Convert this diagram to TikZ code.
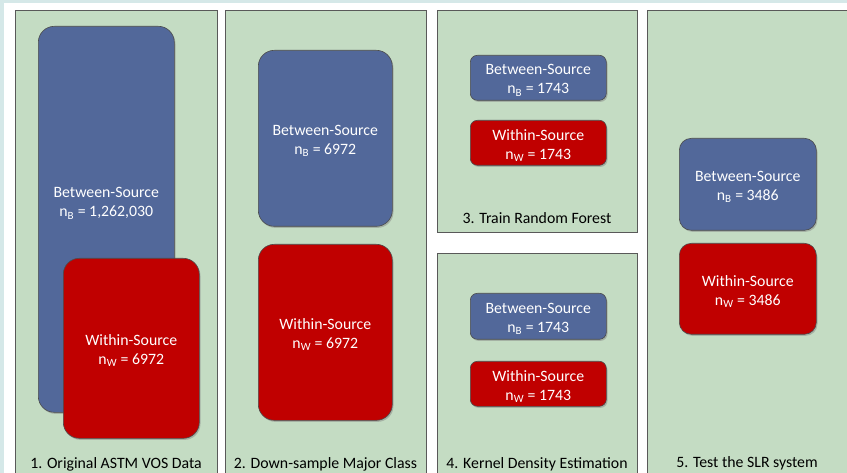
\documentclass[tikz,border=0pt]{standalone}
\usepackage{fontspec}
\setmainfont{Carlito}
\usetikzlibrary{shadows}

\definecolor{framecyan}{HTML}{D5E8E8}
\definecolor{panelgreen}{HTML}{C4DCC3}
\definecolor{srcblue}{HTML}{52689A}
\definecolor{srcred}{HTML}{C00000}
\newcommand{\boxfont}{\fontsize{15.8}{19}\selectfont}

\begin{document}
\begin{tikzpicture}[x=1pt,y=-1pt,
  panel/.style={draw=black!65,line width=1.1pt,fill=panelgreen,anchor=north west,inner sep=0pt},
  srcbox/.style={draw=black!70,line width=0.6pt,anchor=north west,inner sep=0pt,
    drop shadow={opacity=0.45,shadow xshift=1.2pt,shadow yshift=-1.6pt}},
  between/.style={srcbox,fill=srcblue},
  within/.style={srcbox,fill=srcred},
  boxtext/.style={text=white,font=\boxfont,align=center,yshift=-2.5pt},
  steplabel/.style={font=\boxfont,anchor=base}]
    \useasboundingbox (0,0) rectangle (847,473);
    \clip (0,0) rectangle (847,473);
    \fill[framecyan] (0,0) rectangle (847,473);
    \fill[white] (4,3) rectangle (847,473);

    % panels
    \foreach \name/\x/\y/\w/\h in {p1/15/10/202/480, p2/225/10/201/480, p3/437/10/200/222,
                                    p4/437/253/200/230, p5/647/10/201/480} {
        \node[panel,minimum width=\w pt,minimum height=\h pt] (\name) at (\x,\y) {};
    }

    % 1. original data
    \node[between,minimum width=136pt,minimum height=386pt,rounded corners=16pt,
          label={[boxtext,yshift=18.5pt]center:Between-Source\\n\textsubscript{B} = 1,262,030}] (b1) at (38,26) {};
    \node[within,minimum width=136pt,minimum height=180pt,rounded corners=16pt,
          label={[boxtext]center:Within-Source\\n\textsubscript{W} = 6972}] (w1) at (63,258) {};

    % 2. down-sample
    \node[between,minimum width=134pt,minimum height=176pt,rounded corners=16pt,
          label={[boxtext]center:Between-Source\\n\textsubscript{B} = 6972}] (b2) at (258,50) {};
    \node[within,minimum width=134pt,minimum height=176pt,rounded corners=16pt,
          label={[boxtext]center:Within-Source\\n\textsubscript{W} = 6972}] (w2) at (258,244) {};

    % 3. random forest
    \node[between,minimum width=136pt,minimum height=45pt,rounded corners=7pt,
          label={[boxtext]center:Between-Source\\n\textsubscript{B} = 1743}] (b3) at (470,55) {};
    \node[within,minimum width=136pt,minimum height=45pt,rounded corners=7pt,
          label={[boxtext]center:Within-Source\\n\textsubscript{W} = 1743}] (w3) at (470,120) {};

    % 4. kde
    \node[between,minimum width=136pt,minimum height=46pt,rounded corners=7pt,
          label={[boxtext]center:Between-Source\\n\textsubscript{B} = 1743}] (b4) at (470,293) {};
    \node[within,minimum width=136pt,minimum height=45pt,rounded corners=7pt,
          label={[boxtext]center:Within-Source\\n\textsubscript{W} = 1743}] (w4) at (470,361) {};

    % 5. test
    \node[between,minimum width=137pt,minimum height=92pt,rounded corners=12pt,
          label={[boxtext]center:Between-Source\\n\textsubscript{B} = 3486}] (b5) at (679,138) {};
    \node[within,minimum width=137pt,minimum height=91pt,rounded corners=12pt,
          label={[boxtext]center:Within-Source\\n\textsubscript{W} = 3486}] (w5) at (679,243) {};

    % step labels
    \node[steplabel] (l1) at (116,468) {1. Original ASTM VOS Data};
    \node[steplabel] (l2) at (325.5,468) {2. Down-sample Major Class};
    \node[steplabel] (l3) at (537,224) {3. Train Random Forest};
    \node[steplabel] (l4) at (537,468) {4. Kernel Density Estimation};
    \node[steplabel] (l5) at (747,467) {5. Test the SLR system};
\end{tikzpicture}
\end{document}
